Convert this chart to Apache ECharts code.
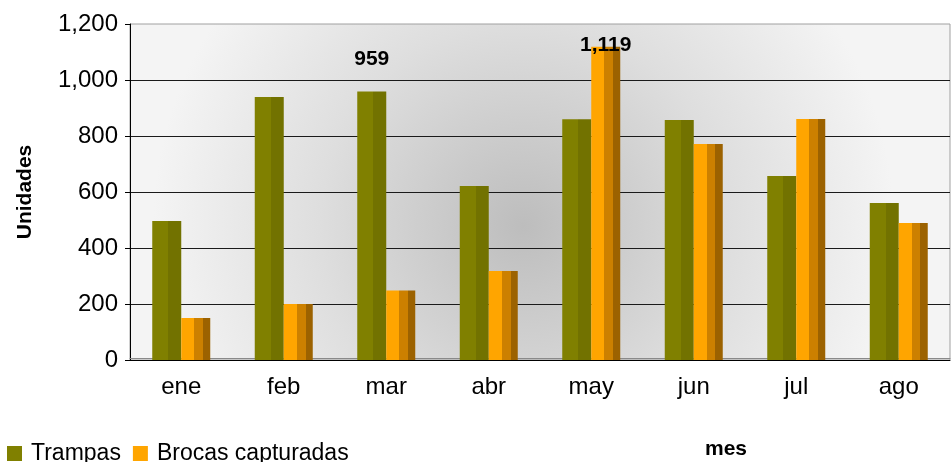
<!DOCTYPE html>
<html>
<head>
<meta charset="utf-8">
<script src="https://cdn.jsdelivr.net/npm/echarts@6/dist/echarts.min.js"></script>
<style>
html,body{margin:0;padding:0;background:#fff;}
#m1{width:951px;height:462px;}
</style>
</head>
<body>
<div id="m1"></div>
<script>
var meses=['ene','feb','mar','abr','may','jun','jul','ago'];
var trampas=[496,939,959,621,860,857,657,561];
var brocas=[150,200,248,318,1119,771,861,489];
var yTicks=[0,200,400,600,800,1000,1200];

var fuente='"Liberation Sans", Arial, sans-serif';

function fmt(v){
    return v.toLocaleString('en-US');
}

// solo se etiqueta el maximo de cada serie
function conMaximo(arr,dist){
    var mx=Math.max.apply(null,arr);
    return arr.map(function(v){
        if(v!==mx) return v;
        return {value:v,label:{show:true,position:'top',distance:dist,
            formatter:function(p){return fmt(p.value);},
            fontFamily:fuente,fontWeight:'bold',fontSize:21,color:'#000'}};
    });
}

var olivo={type:'linear',x:0,y:0,x2:1,y2:0,colorStops:[
    {offset:0,color:'#808000'},{offset:0.55,color:'#808000'},
    {offset:0.55,color:'#727200'},{offset:1,color:'#727200'}]};
var naranja={type:'linear',x:0,y:0,x2:1,y2:0,colorStops:[
    {offset:0,color:'#ffa500'},{offset:0.45,color:'#ffa500'},
    {offset:0.45,color:'#cc8000'},{offset:0.75,color:'#cc8000'},
    {offset:0.75,color:'#9c6200'},{offset:1,color:'#9c6200'}]};

var myChart=echarts.init(document.getElementById('m1'));
var option={
    animation:false,
    title:{
        text:'mes',left:700,top:434,
        textStyle:{fontFamily:fuente,fontWeight:'bold',fontSize:21,color:'#000'}
    },
    legend:{
        left:2,top:437,itemWidth:15,itemHeight:15,itemGap:12,
        textStyle:{fontFamily:fuente,fontSize:23,color:'#000',padding:[0,0,0,4]},
        data:[
            {name:'Trampas',icon:'rect',itemStyle:{color:'#808000'}},
            {name:'Brocas capturadas',icon:'rect',itemStyle:{color:'#ffa500'}}
        ]
    },
    grid:{
        left:130,right:1,top:24,bottom:102,
        outerBoundsMode:'none',
        show:true,borderColor:'#a0a0a0',borderWidth:1,
        backgroundColor:{type:'radial',x:0.48,y:0.6,r:1.1,colorStops:[
            {offset:0,color:'#bdbdbd'},{offset:0.55,color:'#dedede'},{offset:1,color:'#f4f4f4'}]}
    },
    xAxis:{
        type:'category',
        data:meses,
        axisLine:{lineStyle:{color:'#000',width:1,shadowColor:'#8a8a8a',shadowOffsetY:-2,shadowBlur:0}},
        axisTick:{length:7,lineStyle:{color:'#000'}},
        axisLabel:{margin:15,fontFamily:fuente,fontSize:24,color:'#000'}
    },
    yAxis:{
        type:'value',min:yTicks[0],max:yTicks[yTicks.length-1],interval:200,
        name:'Unidades',nameLocation:'middle',nameGap:94,nameRotate:90,
        nameTextStyle:{fontFamily:fuente,fontWeight:'bold',fontSize:21,color:'#000'},
        axisLine:{show:true,lineStyle:{color:'#000'}},
        axisTick:{show:true,length:5,lineStyle:{color:'#000'}},
        axisLabel:{margin:12,fontFamily:fuente,fontSize:24,color:'#000',
            formatter:function(v){return fmt(v);}},
        splitLine:{show:true,showMinLine:false,showMaxLine:false,lineStyle:{color:'#1a1a1a',width:1}}
    },
    series:[
        {
        name:'Trampas',
        type:'bar',
        barWidth:29,
        barGap:'0%',
        itemStyle:{color:olivo},
        data:conMaximo(trampas,22)
        },
        {
        name:'Brocas capturadas',
        type:'bar',
        barWidth:29,
        itemStyle:{color:naranja},
        data:conMaximo(brocas,-9)
        }
    ]
};
myChart.setOption(option);
</script>
</body>
</html>
